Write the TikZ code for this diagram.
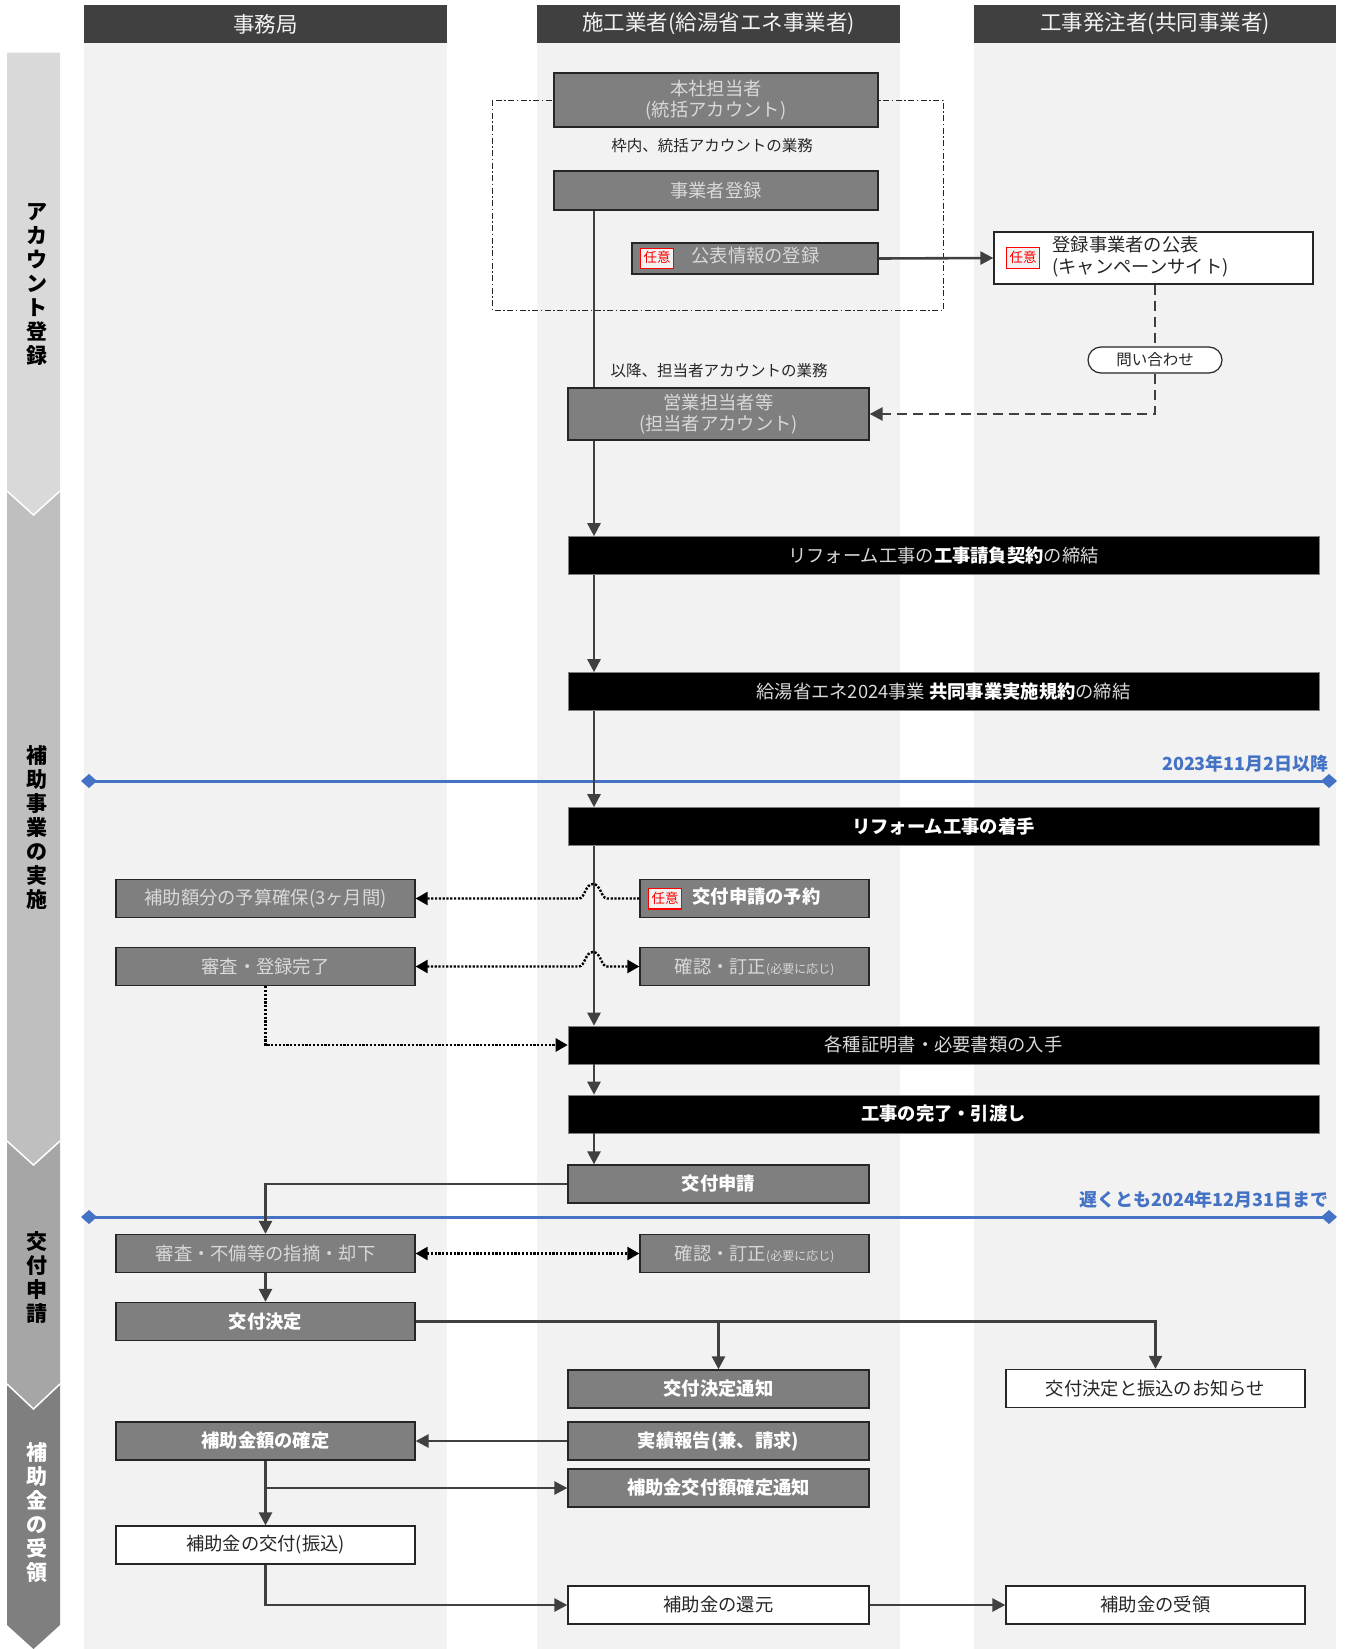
\documentclass[tikz,border=0pt]{standalone}
\usepackage{fontspec}
\setmainfont{Noto Sans CJK JP}
\usetikzlibrary{arrows.meta,calc}
\definecolor{gF2}{HTML}{F2F2F2}
\definecolor{gD9}{HTML}{D9D9D9}
\definecolor{gBF}{HTML}{BFBFBF}
\definecolor{gA6}{HTML}{A6A6A6}
\definecolor{g7F}{HTML}{7F7F7F}
\definecolor{g40}{HTML}{404040}
\definecolor{g26}{HTML}{262626}
\definecolor{bl}{HTML}{4472C4}
\newcommand\fsNode{\fontsize{18.3pt}{21pt}\selectfont}
\newcommand\fsLab{\fontsize{15.5pt}{18pt}\selectfont}
\newcommand\fsTiny{\fontsize{12pt}{12pt}\selectfont}
\newcommand\nini{{\setlength\fboxsep{2.5pt}\setlength\fboxrule{1.2pt}\fcolorbox{red}{gF2}{\rule[-2.8pt]{0pt}{13pt}\fontsize{13.5pt}{13.5pt}\selectfont\color{red}任意}}}
\tikzset{
  gnode/.style={draw=g26, line width=1.3pt, fill=g7F, text=gD9, inner sep=0pt, font=\fsNode, align=center},
  gbold/.style={gnode, text=white, font=\fsNode\bfseries},
  bnode/.style={draw=g7F, line width=0.6pt, fill=black, text=gD9, inner sep=0pt, font=\fsNode, minimum width=751pt, minimum height=38pt},
  wnode/.style={draw=g26, line width=1.3pt, fill=white, text=g26, inner sep=0pt, font=\fsNode, align=center},
  bxL/.style={minimum width=299pt, minimum height=38pt},
  bxM/.style={minimum width=301pt, minimum height=38pt},
  bxR/.style={minimum width=229pt, minimum height=38pt},
  hdr/.style={fill=g40, text=gF2, inner sep=0pt, font=\fontsize{21.5pt}{23pt}\selectfont, minimum height=38pt},
  phase/.style={inner sep=0pt, align=center, font=\fontsize{21pt}{24pt}\selectfont\bfseries},
  conn/.style={draw=g40, line width=2.6pt},
  arr/.style={conn, -{Triangle[length=13pt,width=13pt]}},
  dotln/.style={draw=black, line width=2.4pt, dash pattern=on 2.2pt off 1.6pt},
  dotarr/.style={dotln, -{Triangle[length=12pt,width=13pt]}},
  dotdbl/.style={dotln, {Triangle[length=12pt,width=13pt]}-{Triangle[length=12pt,width=13pt]}},
  dashln/.style={draw=g40, line width=2.6pt, dash pattern=on 10pt off 6pt},
  dasharr/.style={dashln, -{Triangle[length=13pt,width=13pt]}},
  blueln/.style={draw=bl, line width=3pt, {Diamond[length=16pt,width=14pt]}-{Diamond[length=16pt,width=14pt]}},
  bluelbl/.style={text=bl, inner sep=0pt, font=\fontsize{18pt}{20pt}\selectfont\bfseries},
}
\begin{document}
\begin{tikzpicture}[x=1pt,y=-1pt]
\useasboundingbox (0,0) rectangle (1347,1649);
\fill[white] (0,0) rectangle (1347,1649);
% phase band
\fill[g7F] (7,1384)--(60,1384)--(60,1625)--(33.5,1649)--(7,1625)--cycle;
\fill[gA6] (7,1141)--(60,1141)--(60,1384)--(33.5,1409)--(7,1384)--cycle;
\draw[white, line width=1.5pt] (7,1384)--(33.5,1409)--(60,1384);
\fill[gBF] (7,491)--(60,491)--(60,1141)--(33.5,1165)--(7,1141)--cycle;
\draw[white, line width=1.5pt] (7,1141)--(33.5,1165)--(60,1141);
\fill[gD9] (7,52.6)--(60,52.6)--(60,491)--(33.5,515)--(7,491)--cycle;
\draw[white, line width=1.5pt] (7,491)--(33.5,515)--(60,491);
\node[phase, text=black] (p1) at (36.5,284) {ア\\カ\\ウ\\ン\\ト\\登\\録};
\node[phase, text=black] (p2) at (36.5,828) {補\\助\\事\\業\\の\\実\\施};
\node[phase, text=black] (p3) at (36.5,1277) {交\\付\\申\\請};
\node[phase, text=white] (p4) at (36.5,1513) {補\\助\\金\\の\\受\\領};
% lanes
\fill[gF2] (84,43) rectangle (447,1649);
\fill[gF2] (537,43) rectangle (900,1649);
\fill[gF2] (974,43) rectangle (1336,1649);
\node[hdr, minimum width=363pt] (h1) at (265.5,24) {事務局};
\node[hdr, minimum width=363pt] (h2) at (718.5,24) {施工業者(給湯省エネ事業者)};
\node[hdr, minimum width=362pt] (h3) at (1155,24) {工事発注者(共同事業者)};
% dash-dot frame
\draw[g26, line width=1pt, dash pattern=on 6pt off 2.5pt on 1.5pt off 2.5pt] (492,100) rectangle (943,310);
% timelines
\draw[blueln] (81,781) -- (1337,781);
\node[bluelbl, anchor=east] (d1) at (1329,764) {2023年11月2日以降};
\draw[blueln] (81,1217) -- (1337,1217);
\node[bluelbl, anchor=east] (d2) at (1329,1200) {遅くとも2024年12月31日まで};
% nodes lane 2 top
\node[gnode, minimum width=324pt, minimum height=54pt] (A) at (716,100) {本社担当者\\(統括アカウント)};
\node[font=\fsLab, text=g26, inner sep=0pt] (lab1) at (712,146) {枠内、統括アカウントの業務};
\node[gnode, minimum width=324pt, minimum height=39pt] (B) at (716,190.5) {事業者登録};
\node[gnode, minimum width=246pt, minimum height=31pt, text width=230pt, align=left, inner xsep=8pt] (C) at (755,258.5) {\nini\hspace{17pt}公表情報の登録};
\node[wnode, minimum width=319pt, minimum height=52pt, text width=295pt, align=left, inner xsep=12pt] (D) at (1153.5,258) {$\vcenter{\hbox{\nini}}$\hspace{12pt}$\vcenter{\hbox{\begin{tabular}{@{}l@{}}登録事業者の公表\\(キャンペーンサイト)\end{tabular}}}$};
\node[draw=g26, line width=1.2pt, fill=white, rounded corners=13pt, minimum width=134pt, minimum height=26pt, inner sep=0pt, font=\fsLab, text=g26] (ask) at (1155,360) {問い合わせ};
\node[font=\fsLab, text=g26, inner sep=0pt] (lab2) at (719,371) {以降、担当者アカウントの業務};
\node[gnode, bxM, minimum height=52pt] (E) at (718.5,414) {営業担当者等\\(担当者アカウント)};
% black bars
\node[bnode] (F) at (943.5,555.5) {リフォーム工事の{\bfseries\color{white}工事請負契約}の締結};
\node[bnode] (G) at (943.5,691.5) {給湯省エネ2024事業 {\bfseries\color{white}共同事業実施規約}の締結};
\node[bnode, text=white, font=\fsNode\bfseries] (H) at (943.5,826.5) {リフォーム工事の着手};
\node[bnode] (M) at (943.5,1045) {各種証明書・必要書類の入手};
\node[bnode, text=white, font=\fsNode\bfseries] (N) at (943.5,1114) {工事の完了・引渡し};
% lane 1
\node[gnode, bxL] (I) at (265.5,898.5) {補助額分の予算確保(3ヶ月間)};
\node[gnode, bxL] (K) at (265.5,966.5) {審査・登録完了};
\node[gnode, bxL] (P) at (265.5,1253.5) {審査・不備等の指摘・却下};
\node[gbold, bxL] (R) at (265.5,1321.5) {交付決定};
\node[gbold, bxL] (U) at (265.5,1441) {補助金額の確定};
\node[wnode, bxL] (X) at (265.5,1545) {補助金の交付(振込)};
% lane 2
\node[gnode, bxR, text width=213pt, align=left, inner xsep=8pt] (J) at (754.5,898.5) {\nini\hspace{10pt}{\bfseries\color{white}交付申請の予約}};
\node[gnode, bxR] (L) at (754.5,966.5) {確認・訂正{\fsTiny(必要に応じ)}};
\node[gbold, bxM] (O) at (718.5,1184) {交付申請};
\node[gnode, bxR] (Q) at (754.5,1253.5) {確認・訂正{\fsTiny(必要に応じ)}};
\node[gbold, bxM] (S) at (718.5,1389) {交付決定通知};
\node[gbold, bxM] (V) at (718.5,1441) {実績報告(兼、請求)};
\node[gbold, bxM] (W) at (718.5,1488) {補助金交付額確定通知};
\node[wnode, bxM] (Y) at (718.5,1605) {補助金の還元};
% lane 3
\node[wnode, bxL] (T) at (1155.5,1388.5) {交付決定と振込のお知らせ};
\node[wnode, bxL] (Z) at (1155.5,1605) {補助金の受領};
% connectors
\coordinate (tk) at (594,0);
\draw[conn] (B.south -| tk) -- (E.north -| tk);
\draw[arr] (E.south -| tk) -- (F.north -| tk);
\draw[arr] (F.south -| tk) -- (G.north -| tk);
\draw[arr] (G.south -| tk) -- (H.north -| tk);
\draw[arr] (H.south -| tk) -- (M.north -| tk);
\draw[arr] (M.south -| tk) -- (N.north -| tk);
\draw[arr] (N.south -| tk) -- (O.north -| tk);
\draw[arr] (C.east) -- (D.west);
\draw[dashln] (ask.north |- D.south) -- (ask.north);
\draw[dasharr] (ask.south) |- (E.east);
\draw[dotarr] (J.west) -- (607,898.5) .. controls (601,898.5) and (601,884) .. (593,884) .. controls (585,884) and (585,898.5) .. (579,898.5) -- (I.east);
\draw[dotdbl] (K.east) -- (579,966.5) .. controls (585,966.5) and (585,952) .. (593,952) .. controls (601,952) and (601,966.5) .. (607,966.5) -- (L.west);
\draw[dotarr] (K.south) |- (M.west);
\draw[arr] (O.west) -| (P.north);
\draw[arr] (P.south) -- (R.north);
\draw[dotdbl] (P.east) -- (Q.west);
\draw[arr] (R.east) -| (T.north);
\draw[arr] (S.north |- R.east) -- (S.north);
\draw[arr] (V.west) -- (U.east);
\draw[arr] (U.south) -- (X.north);
\draw[arr] (U.south |- W.west) -- (W.west);
\draw[arr] (X.south) |- (Y.west);
\draw[arr] (Y.east) -- (Z.west);
\end{tikzpicture}
\end{document}
